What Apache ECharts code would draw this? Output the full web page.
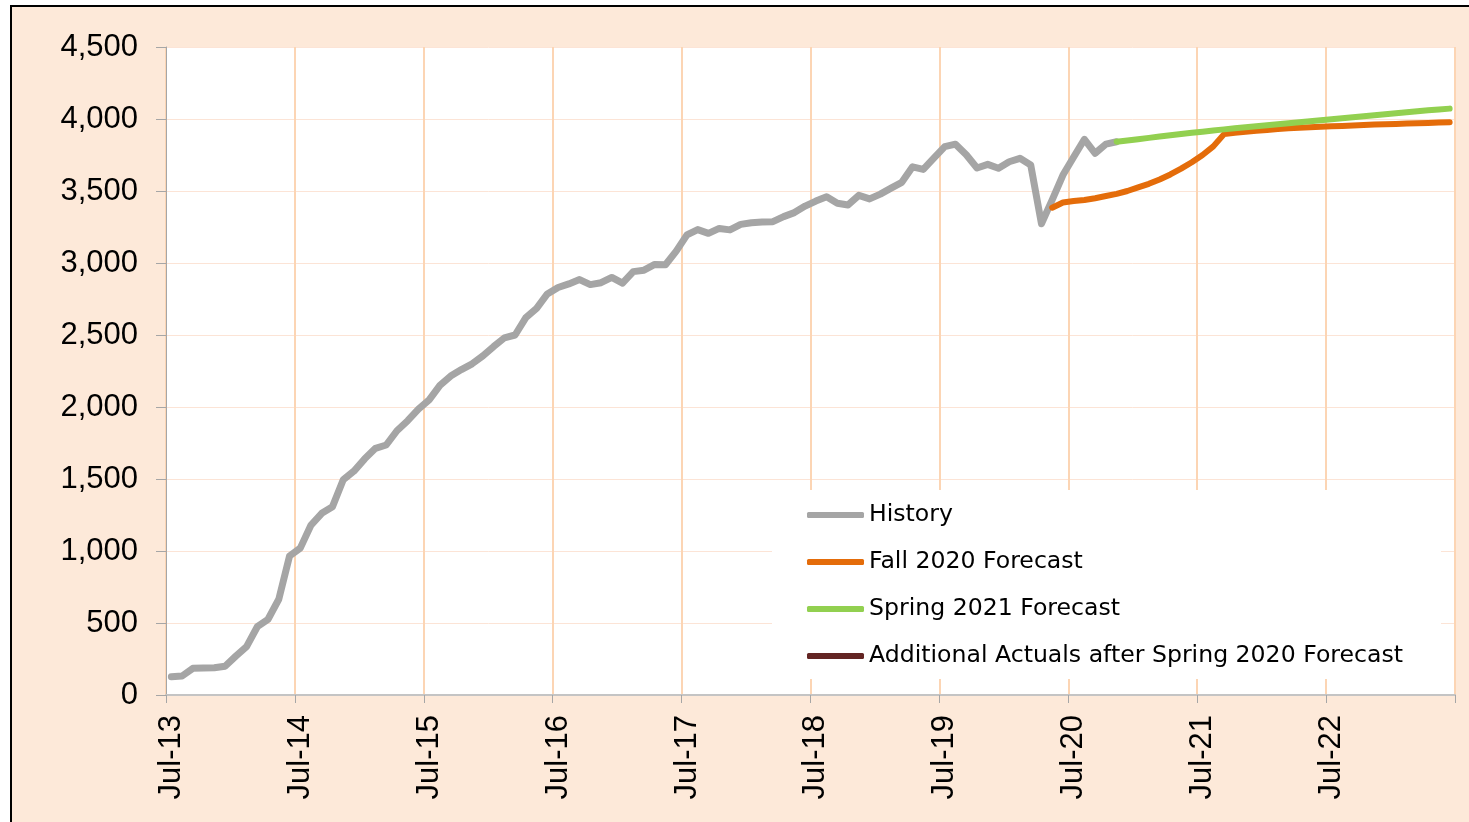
<!DOCTYPE html>
<html>
<head>
<meta charset="utf-8">
<script src="https://cdn.jsdelivr.net/npm/echarts@6.0.0/dist/echarts.min.js"></script>
<style>
  html, body { margin: 0; padding: 0; background: #fff; overflow: hidden; }
  #frame {
    position: absolute; left: 10px; top: 5px; width: 1480px; height: 840px;
    border: 2px solid #000; background: #FDE9D9;
  }
  #chart { position: absolute; left: 0; top: 0; width: 1469px; height: 822px; }
</style>
</head>
<body>
<div id="frame"></div>
<div id="chart"></div>
<script>
// months Jul-13 .. Jun-23, one point per month
const monthNames = ['Jan', 'Feb', 'Mar', 'Apr', 'May', 'Jun', 'Jul', 'Aug', 'Sep', 'Oct', 'Nov', 'Dec']
const firstYear = 2013, firstMonth = 6, monthCount = 120

// History, Jul-13 .. Nov-20
const history = [
  127, 132, 185, 188, 189, 200, 270, 336, 474, 526, 665, 965,
  1020, 1180, 1262, 1308, 1495, 1555, 1640, 1713, 1736, 1835, 1905, 1985,
  2050, 2150, 2215, 2260, 2300, 2355, 2420, 2480, 2500, 2620, 2685, 2785,
  2830, 2855, 2885, 2850, 2863, 2900, 2860, 2940, 2950, 2990, 2988, 3082,
  3195, 3232, 3206, 3240, 3230, 3268, 3280, 3285, 3287, 3322, 3350, 3395,
  3430, 3460, 3415, 3403, 3470, 3445, 3478, 3520, 3560, 3668, 3650, 3730,
  3808, 3825, 3752, 3660, 3685, 3658, 3703, 3727, 3681, 3273, 3438, 3611,
  3736, 3859, 3762, 3826, 3842
]

// Fall 2020 Forecast, May-20 .. Jun-23
const fallStart = 'May-20'
const fall2020 = [
  3384, 3420, 3430, 3438, 3450, 3465, 3480, 3500, 3525, 3550, 3580, 3615,
  3655, 3700, 3750, 3810, 3895, 3905, 3912, 3918, 3924, 3930, 3935, 3939,
  3943, 3946, 3949, 3952, 3955, 3958, 3961, 3964, 3966, 3969, 3971, 3973,
  3975, 3977
]

// Spring 2021 Forecast, Nov-20 .. Jun-23
const springStart = 'Nov-20'
const spring2021 = [
  3842, 3851, 3860, 3869, 3878, 3887, 3896, 3904, 3912, 3920, 3928, 3935,
  3942, 3949, 3956, 3963, 3970, 3977, 3984, 3991, 3998, 4005, 4012, 4019,
  4026, 4033, 4040, 4047, 4054, 4060, 4066, 4072
]

// Additional Actuals after Spring 2020 Forecast: nothing plotted
const additional = []

const yTicks = { min: 0, max: 4500, step: 500 }

const months = []
for (let i = 0; i < monthCount; i++) {
  const m = (firstMonth + i) % 12
  const y = firstYear + Math.floor((firstMonth + i) / 12)
  months.push(monthNames[m] + '-' + String(y).slice(2))
}

function place(values, start) {
  const out = new Array(monthCount).fill(null)
  const at = months.indexOf(start)
  values.forEach((v, i) => { out[at + i] = v })
  return out
}

const lineSeries = (name, data, color, width) => ({
  name: name,
  type: 'line',
  data: data,
  showSymbol: false,
  symbol: 'none',
  connectNulls: false,
  color: color,
  lineStyle: { color: color, width: width, cap: 'round', join: 'round' },
  emphasis: { disabled: true },
  animation: false
})

const chart = echarts.init(document.getElementById('chart'))
chart.setOption({
  backgroundColor: 'transparent',
  animation: false,
  grid: {
    left: 166, right: 14, top: 47, bottom: 127,
    show: true, backgroundColor: '#ffffff', borderWidth: 0
  },
  legend: {
    orient: 'vertical',
    left: 772, top: 490,
    padding: [10, 38, 8, 35],
    backgroundColor: '#ffffff',
    icon: 'roundRect',
    itemWidth: 57, itemHeight: 6,
    itemGap: 17,
    selectedMode: false,
    textStyle: { fontFamily: 'DejaVu Sans', fontSize: 23.6, color: '#000', lineHeight: 30 },
    data: ['History', 'Fall 2020 Forecast', 'Spring 2021 Forecast', 'Additional Actuals after Spring 2020 Forecast']
  },
  xAxis: {
    type: 'category',
    data: months,
    boundaryGap: true,
    axisLine: { show: true, lineStyle: { color: '#C4C4C4', width: 2 } },
    axisTick: { show: true, interval: 11, length: 8, alignWithLabel: false, lineStyle: { color: '#A6A6A6', width: 1 } },
    axisLabel: {
      interval: 11, rotate: 90, margin: 20,
      fontFamily: 'Liberation Sans', fontSize: 31, color: '#000'
    },
    splitLine: { show: true, interval: 11, lineStyle: { color: '#FCD5B4', width: 2 } }
  },
  yAxis: {
    type: 'value',
    min: yTicks.min, max: yTicks.max, interval: yTicks.step,
    axisLine: { show: true, lineStyle: { color: '#A6A6A6', width: 1 } },
    axisTick: { show: true, length: 10, lineStyle: { color: '#A6A6A6' } },
    axisLabel: {
      margin: 28, fontFamily: 'Liberation Sans', fontSize: 31, color: '#000',
      formatter: v => v.toLocaleString('en-US')
    },
    splitLine: { show: true, lineStyle: { color: '#FCE4D6', width: 1 } }
  },
  series: [
    lineSeries('History', place(history, months[0]), '#A5A5A5', 7),
    lineSeries('Fall 2020 Forecast', place(fall2020, fallStart), '#E46C0A', 6),
    lineSeries('Spring 2021 Forecast', place(spring2021, springStart), '#92D050', 6),
    lineSeries('Additional Actuals after Spring 2020 Forecast', place(additional, months[0]), '#632523', 6)
  ]
})
</script>
</body>
</html>
